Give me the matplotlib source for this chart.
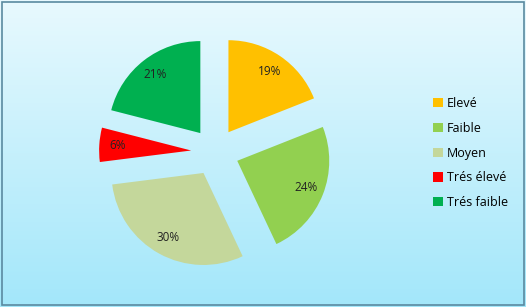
#!/usr/bin/env python
# coding:utf-8
"""plot.py - exploded pie chart"""

import numpy as np
import matplotlib
matplotlib.use('Agg')
import matplotlib.pyplot as plt
from matplotlib.patches import Rectangle

categories = ['Elevé', 'Faible', 'Moyen', 'Trés élevé', 'Trés faible']
shares = [19, 24, 30, 6, 21]
colors = ['#FFC000', '#92D050', '#C4D79B', '#FF0000', '#00B050']

W, H = 526, 307
CX, CY, R = 215, 152, 92  # pie centre / radius in pixels


def main():
    plt.rcParams['font.family'] = ['Open Sans', 'DejaVu Sans']
    fig = plt.figure(figsize=(W / 100, H / 100), dpi=100)

    # background gradient
    bg = fig.add_axes([0, 0, 1, 1])
    grad = np.linspace(0, 1, 256).reshape(-1, 1)
    top = np.array([232, 249, 254]) / 255.0
    bot = np.array([163, 231, 250]) / 255.0
    img = top[None, None, :] * (1 - grad[:, :, None]) + bot[None, None, :] * grad[:, :, None]
    bg.imshow(img, aspect='auto', extent=[0, 1, 0, 1])
    bg.add_patch(Rectangle((0.004, 0.006), 0.992, 0.988, fill=False,
                           edgecolor='#5a8aa0', linewidth=1.2,
                           transform=bg.transAxes))
    bg.set_xlim(0, 1)
    bg.set_ylim(0, 1)
    bg.axis('off')

    ax = fig.add_axes([0, 0, 1, 1])
    ax.patch.set_alpha(0)
    wedges, texts, autotexts = ax.pie(
        shares, colors=colors, startangle=90, counterclock=False,
        explode=[0.26] * len(shares), autopct='%d%%', pctdistance=0.8,
        textprops={'fontsize': 8.5, 'color': '#222222'})
    ax.set_aspect('auto')
    ax.set_xlim(-CX / R, (W - CX) / R)
    ax.set_ylim(-(H - CY) / R, CY / R)
    ax.axis('off')

    fig.legend(wedges, categories, loc='center left',
               bbox_to_anchor=(427 / W, 1 - 153 / H), frameon=False,
               fontsize=9, handlelength=0.75, handleheight=0.75,
               handletextpad=0.35, labelspacing=0.95, borderpad=0)

    fig.savefig('out.png', dpi=100)
    plt.close(fig)


if __name__ == '__main__':
    main()
